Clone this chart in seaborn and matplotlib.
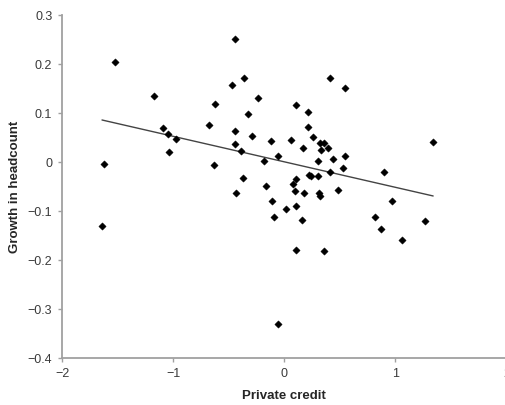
import numpy as np
import pandas as pd
import matplotlib
matplotlib.use("Agg")
import matplotlib.pyplot as plt
import seaborn as sns

##### DATA #####
private_credit = [
    -1.52, -1.62, -1.64, -1.17, -1.09, -1.05, -0.97, -1.04, -0.68, -0.62,
    -0.63, -0.44, -0.47, -0.36, -0.33, -0.44, -0.29, -0.44, -0.39, -0.37,
    -0.43, -0.24, 0.41, 0.55, 0.105, 0.214, 0.214, -0.12, 0.06, 0.26,
    0.32, 0.36, 0.39, 0.33, 0.17, -0.06, -0.18, 0.55, 0.44, 0.30,
    0.53, 0.41, 0.90, 1.34, 0.105, 0.08, 0.22, 0.24, 0.30, -0.16,
    0.096, 0.18, 0.31, 0.32, 0.48, -0.11, 0.02, 0.11, -0.09, 0.16,
    0.97, 0.82, 0.87, 1.27, 1.06, 0.11, 0.36, -0.06,
]
growth_headcount = [
    0.204, -0.004, -0.132, 0.134, 0.069, 0.056, 0.046, 0.020, 0.074, 0.117,
    -0.006, 0.251, 0.156, 0.170, 0.097, 0.062, 0.053, 0.036, 0.022, -0.033,
    -0.063, 0.130, 0.170, 0.150, 0.115, 0.101, 0.071, 0.042, 0.044, 0.051,
    0.039, 0.039, 0.028, 0.023, 0.028, 0.012, 0.001, 0.012, 0.005, 0.001,
    -0.013, -0.020, -0.020, 0.040, -0.035, -0.045, -0.027, -0.029, -0.029, -0.049,
    -0.059, -0.063, -0.064, -0.070, -0.057, -0.081, -0.097, -0.090, -0.113, -0.120,
    -0.081, -0.113, -0.138, -0.122, -0.160, -0.181, -0.183, -0.331,
]
x_ticks = [-2, -1, 0, 1, 2]
y_ticks = [-0.4, -0.3, -0.2, -0.1, 0, 0.1, 0.2, 0.3]

df = pd.DataFrame({"credit": private_credit, "growth": growth_headcount})

##### STYLE #####
sns.set_style("ticks")
plt.rcParams['font.family'] = ['Liberation Sans', 'DejaVu Sans']

fig = plt.figure(figsize=(5.05, 4.06), dpi=100)
ax = fig.add_axes([62 / 505, 1 - 358.7 / 406, 444.5 / 505, 343 / 406])

# fitted trend line over the data range
sns.regplot(data=df, x="credit", y="growth", ci=None, truncate=True,
            scatter=False, ax=ax, line_kws={"color": "#444444", "lw": 1.0})
sns.scatterplot(data=df, x="credit", y="growth", marker="D", s=14,
                color="black", edgecolor="black", linewidth=0.3, ax=ax, zorder=3)

ax.set_xlim(-2, 2)
ax.set_ylim(-0.4, 0.3)
ax.set_xticks(x_ticks)
ax.set_yticks(y_ticks)
ax.set_xticklabels([f"{t:g}".replace("-", "\u2212") for t in x_ticks])
ax.set_yticklabels(["0" if t == 0 else f"{t:.1f}".replace("-", "\u2212") for t in y_ticks])

for side in ["top", "right"]:
    ax.spines[side].set_visible(False)
for side in ["left", "bottom"]:
    ax.spines[side].set_color("#a0a0a0")
    ax.spines[side].set_linewidth(1.3)
ax.tick_params(axis="both", colors="#a0a0a0", labelcolor="#3a3a3a",
               labelsize=9, length=3, width=1.0, pad=4)

ax.set_xlabel("Private credit", fontsize=9.5, fontweight="bold", labelpad=7)
ax.set_ylabel("Growth in headcount", fontsize=9.5, fontweight="bold", labelpad=5)

fig.savefig("out.png", dpi=100)
